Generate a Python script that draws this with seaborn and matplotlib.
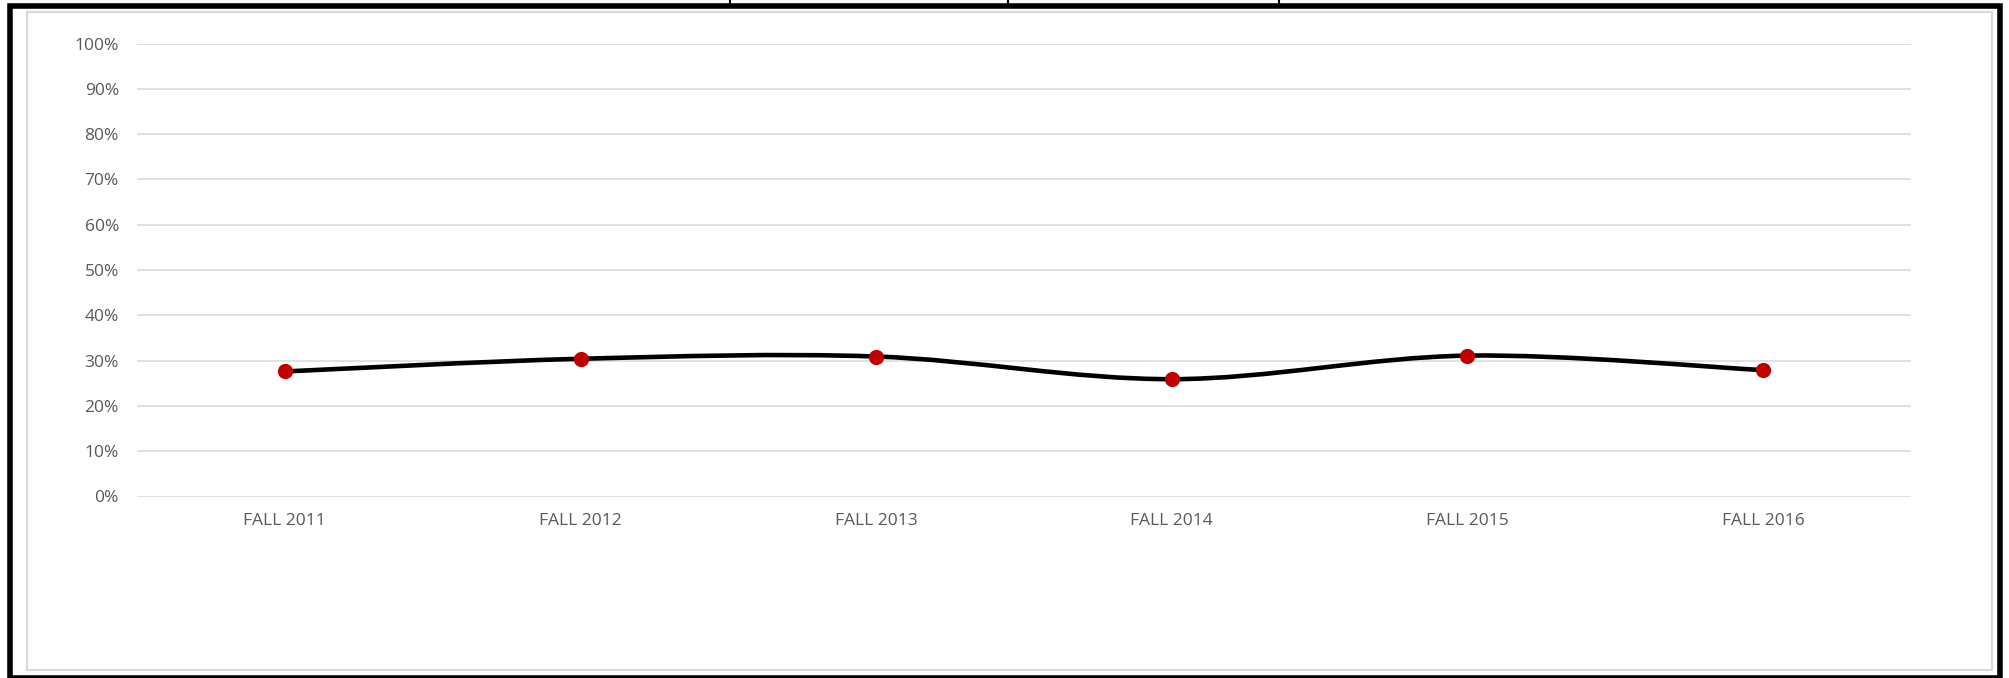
import matplotlib
matplotlib.use("Agg")
import matplotlib.pyplot as plt
import seaborn as sns
import pandas as pd
from matplotlib.path import Path
from matplotlib.patches import PathPatch, Rectangle
from matplotlib.lines import Line2D

# ---- data ----
categories = ["FALL 2011", "FALL 2012", "FALL 2013", "FALL 2014", "FALL 2015", "FALL 2016"]
values = [0.276, 0.304, 0.309, 0.259, 0.311, 0.279]
ytick_values = [0.0, 0.1, 0.2, 0.3, 0.4, 0.5, 0.6, 0.7, 0.8, 0.9, 1.0]
ytick_labels = ["0%", "10%", "20%", "30%", "40%", "50%", "60%", "70%", "80%", "90%", "100%"]

sns.set_theme(style="white")
plt.rcParams["font.family"] = ["Open Sans", "DejaVu Sans"]

W, H = 2009, 678
fig = plt.figure(figsize=(W / 100, H / 100), dpi=100)
fig.patch.set_facecolor("white")

def fx(px):
    return px / W

def fy(py):
    return 1 - py / H

ax = fig.add_axes([fx(137), fy(496.5), fx(1911) - fx(137), fy(43.5) - fy(496.5)])

df = pd.DataFrame({"term": categories, "rate": values})
xs = list(range(len(categories)))
df["x"] = xs

# smoothed line (Excel-style Bezier through the data points)
pts = list(zip(xs, values))
n = len(pts)
verts = [pts[0]]
codes = [Path.MOVETO]
for i in range(n - 1):
    p0 = pts[i - 1] if i > 0 else pts[i]
    p1 = pts[i]
    p2 = pts[i + 1]
    p3 = pts[i + 2] if i + 2 < n else pts[i + 1]
    c1 = (p1[0] + (p2[0] - p0[0]) / 6, p1[1] + (p2[1] - p0[1]) / 6)
    c2 = (p2[0] - (p3[0] - p1[0]) / 6, p2[1] - (p3[1] - p1[1]) / 6)
    verts += [c1, c2, p2]
    codes += [Path.CURVE4, Path.CURVE4, Path.CURVE4]
patch = PathPatch(Path(verts, codes), facecolor="none", edgecolor="black",
                  lw=3.3, capstyle="round", joinstyle="round", zorder=3)
ax.add_patch(patch)

sns.scatterplot(data=df, x="x", y="rate", ax=ax, color="#C00000", s=120,
                edgecolor="#C00000", linewidth=0, zorder=4, legend=False)

ax.set_xlim(-0.5, len(categories) - 0.5)
ax.set_ylim(0, 1)
ax.set_yticks(ytick_values)
ax.set_yticklabels(ytick_labels)
ax.set_xticks(xs)
ax.set_xticklabels(categories)
ax.set_xlabel("")
ax.set_ylabel("")
ax.yaxis.grid(True, color="#d9d9d9", lw=1.1)
ax.xaxis.grid(False)
ax.set_axisbelow(True)
for s in ax.spines.values():
    s.set_visible(False)
ax.tick_params(axis="both", length=0, colors="#595959", labelsize=12.5)
ax.tick_params(axis="y", pad=13)
ax.tick_params(axis="x", pad=12)
ax.set_facecolor("none")

# inner light frame
fig.add_artist(Rectangle((fx(27), fy(670)), fx(1992) - fx(27), fy(12) - fy(670),
                         transform=fig.transFigure, facecolor="none",
                         edgecolor="#d9d9d9", lw=1.5, zorder=0))
# outer black frame
fig.add_artist(Rectangle((fx(9.5), fy(678)), fx(2000) - fx(9.5), fy(5.5) - fy(678),
                         transform=fig.transFigure, facecolor="none",
                         edgecolor="black", lw=4, zorder=5, clip_on=False))
# little cell separators at top
for xp in [730, 1008, 1279]:
    fig.add_artist(Line2D([fx(xp), fx(xp)], [fy(0), fy(5)], transform=fig.transFigure,
                          color="black", lw=1.5))

fig.savefig("out.png", dpi=100, facecolor="white")
